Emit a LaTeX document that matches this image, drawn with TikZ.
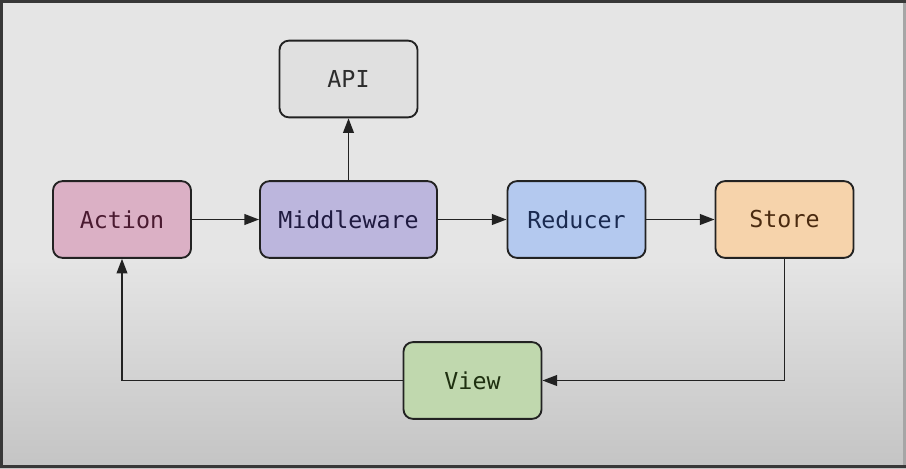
\documentclass[tikz,border=0pt]{standalone}
\usepackage{fontspec}
\setmonofont{DejaVu Sans Mono}
\usetikzlibrary{arrows.meta}
\definecolor{bgtop}{RGB}{229,229,229}
\definecolor{bgbot}{RGB}{196,196,196}
\definecolor{edge}{RGB}{34,34,34}
\definecolor{actionfill}{RGB}{219,176,197}
\definecolor{middlefill}{RGB}{188,182,221}
\definecolor{reducerfill}{RGB}{180,201,239}
\definecolor{storefill}{RGB}{246,211,171}
\definecolor{viewfill}{RGB}{192,216,174}
\definecolor{apifill}{RGB}{224,224,224}

\begin{document}
\begin{tikzpicture}[x=0.75pt,y=-0.75pt,
  box/.style={draw=edge, line width=1.4pt, rounded corners=7pt, minimum width=103.5pt, minimum height=57.5pt, font=\ttfamily\fontsize{17.5}{20}\selectfont},
  link/.style={draw=edge, line width=1.4pt, -{Triangle[length=11pt,width=8pt]}}]
\useasboundingbox (0,0) rectangle (906,468);
% background and screen frame
\fill [bgtop] (0,0) rectangle (906,260);
\shade [top color=bgtop, bottom color=bgbot] (0,259) rectangle (906,468);
\fill [edge!90] (0,0) rectangle (906,3);
\fill [edge!90] (0,0) rectangle (3,468);
\fill [edge!90] (0,465) rectangle (906,468);
\fill [gray!70] (903,3) rectangle (906,465);

% boxes
\node [box, fill=actionfill, text={rgb,255:red,74;green,26;blue,48}] (action) at (122,219.5) {Action};
\node [box, fill=middlefill, minimum width=132.75pt, text={rgb,255:red,31;green,26;blue,64}] (middleware) at (348.5,219.5) {Middleware};
\node [box, fill=apifill, text={rgb,255:red,45;green,45;blue,45}] (api) at (348.5,79) {API};
\node [box, fill=reducerfill, text={rgb,255:red,26;green,42;blue,80}] (reducer) at (576.5,219.5) {Reducer};
\node [box, fill=storefill, text={rgb,255:red,74;green,42;blue,16}] (store) at (784.5,219.5) {Store};
\node [box, fill=viewfill, text={rgb,255:red,31;green,48;blue,16}] (view) at (472.5,380.5) {View};

% arrows
\draw [link] (action) -- (middleware);
\draw [link] (middleware) -- (reducer);
\draw [link] (reducer) -- (store);
\draw [link] (middleware) -- (api);
\draw [link] (store.south) |- (view.east);
\draw [link] (view.west) -| (action.south);

\end{tikzpicture}
\end{document}
